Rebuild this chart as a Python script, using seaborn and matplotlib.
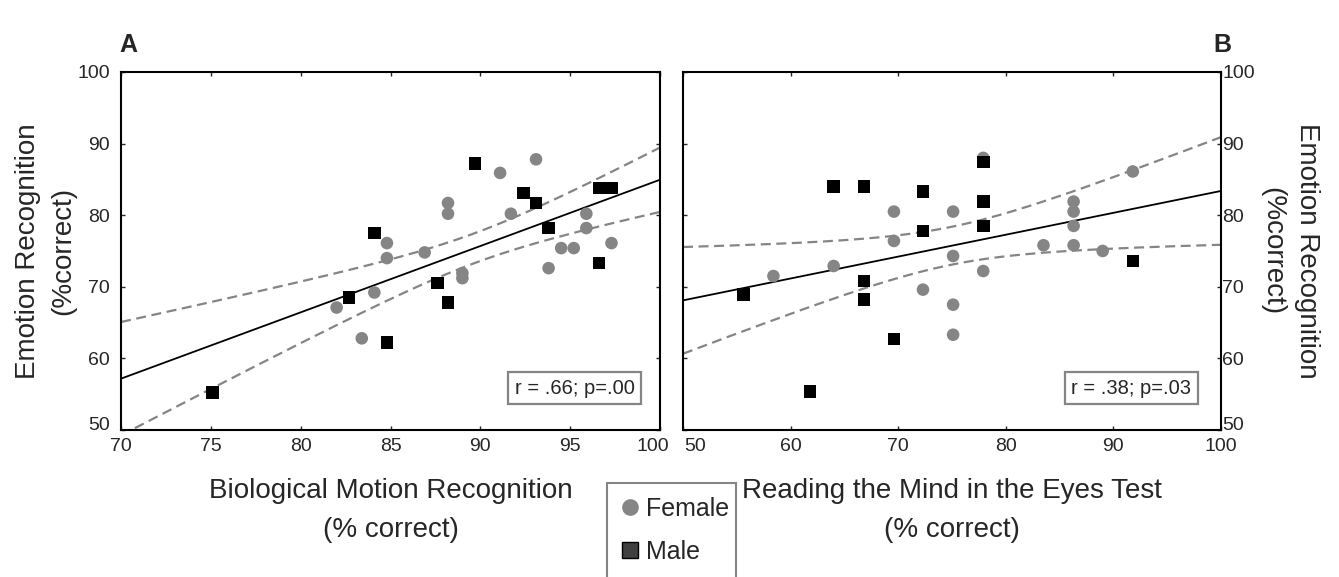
import matplotlib
matplotlib.use("Agg")
import matplotlib.pyplot as plt
import matplotlib.transforms as mtransforms
from matplotlib.lines import Line2D
from matplotlib.patches import Rectangle
import numpy as np
import pandas as pd
import seaborn as sns

# panel A: biological motion recognition vs emotion recognition
bio_female_x = [82.0, 83.4, 84.1, 84.8, 84.8, 86.9, 88.2, 88.2, 89.0, 89.0,
                91.1, 91.7, 93.1, 93.8, 94.5, 95.2, 95.9, 95.9, 97.3]
bio_female_y = [67.1, 62.8, 69.2, 76.1, 74.0, 74.8, 81.7, 80.2, 71.9, 71.2,
                85.9, 80.2, 87.8, 72.6, 75.4, 75.4, 80.2, 78.2, 76.1]
bio_male_x = [75.1, 82.7, 84.1, 84.8, 87.6, 88.2, 89.7, 92.4, 93.1, 93.8,
              96.6, 97.3, 96.6]
bio_male_y = [55.2, 68.5, 77.5, 62.2, 70.5, 67.8, 87.2, 83.1, 81.7, 78.2,
              83.8, 83.8, 73.3]

# panel B: reading the mind in the eyes vs emotion recognition
eyes_female_x = [58.4, 64.0, 69.6, 69.6, 72.3, 75.1, 75.1, 75.1, 75.1, 77.9,
                 77.9, 83.5, 86.3, 86.3, 86.3, 86.3, 89.0, 91.8]
eyes_female_y = [71.5, 72.9, 80.5, 76.4, 69.6, 80.5, 74.3, 67.5, 63.3, 88.0,
                 72.2, 75.8, 81.9, 80.5, 78.5, 75.8, 75.0, 86.1]
eyes_male_x = [55.6, 61.8, 64.0, 66.8, 66.8, 66.8, 69.6, 72.3, 72.3, 77.9,
               77.9, 77.9, 91.8]
eyes_male_y = [68.9, 55.4, 84.0, 84.0, 70.8, 68.2, 62.7, 83.3, 77.8, 87.4,
               81.9, 78.5, 73.6]

stat_a = "r = .66; p=.00"
stat_b = "r = .38; p=.03"

GRAY = "#858585"
T95 = 2.04  # t value, df ~ 30

sns.set_style("white")
plt.rcParams["font.family"] = ["Liberation Sans", "DejaVu Sans"]


def shift(label, fig, dx, dy):
    # nudge a tick label by dx, dy points
    off = mtransforms.ScaledTranslation(dx / 72, dy / 72, fig.dpi_scale_trans)
    label.set_transform(label.get_transform() + off)


def draw_panel(ax, fx, fy, mx, my, xlim, xticks, stat, stat_x):
    df = pd.DataFrame({
        "x": fx + mx,
        "y": fy + my,
        "sex": ["Female"] * len(fx) + ["Male"] * len(mx),
    })
    # regression line and 95% confidence band
    x = df["x"].to_numpy()
    y = df["y"].to_numpy()
    n = len(x)
    b, a = np.polyfit(x, y, 1)
    resid = y - (a + b * x)
    s = np.sqrt(np.sum(resid ** 2) / (n - 2))
    sxx = np.sum((x - x.mean()) ** 2)
    grid = np.linspace(xlim[0], xlim[1], 200)
    fit = a + b * grid
    half = T95 * s * np.sqrt(1 / n + (grid - x.mean()) ** 2 / sxx)
    ax.plot(grid, fit, color="black", lw=1.3, zorder=2)
    for band in (fit - half, fit + half):
        ax.plot(grid, band, color=GRAY, lw=1.6, dashes=(4.5, 2.5), zorder=2)

    sns.scatterplot(data=df, x="x", y="y", hue="sex", style="sex",
                    markers={"Female": "o", "Male": "s"},
                    palette={"Female": GRAY, "Male": "black"},
                    s=82, linewidth=0, legend=False, ax=ax, zorder=3)

    ax.set_xlim(*xlim)
    ax.set_ylim(50, 100)
    ax.set_xticks(xticks)
    ax.set_yticks([50, 60, 70, 80, 90, 100])
    ax.tick_params(direction="in", length=3, width=1, top=True, bottom=True,
                   left=True, right=True, labelsize=14)
    ax.tick_params(axis="x", pad=6)
    for sp in ax.spines.values():
        sp.set_linewidth(1.5)
        sp.set_color("black")
    ax.text(stat_x, 0.117, stat, transform=ax.transAxes, fontsize=14.5,
            ha="center", va="center",
            bbox=dict(boxstyle="square,pad=0.33", fc="white", ec=GRAY, lw=1.6))


fig = plt.figure(figsize=(13.39, 5.77), dpi=100)
axA = fig.add_axes([0.0904, 0.2548, 0.4025, 0.6205])
axB = fig.add_axes([0.5101, 0.2548, 0.4018, 0.6205])

draw_panel(axA, bio_female_x, bio_female_y, bio_male_x, bio_male_y,
           (70, 100), [70, 75, 80, 85, 90, 95, 100], stat_a, 0.842)
draw_panel(axB, eyes_female_x, eyes_female_y, eyes_male_x, eyes_male_y,
           (50, 100), [50, 60, 70, 80, 90, 100], stat_b, 0.833)

axA.tick_params(axis="y", pad=8)
axA.set_xlabel("Biological Motion Recognition\n(% correct)", fontsize=20,
               linespacing=1.65, labelpad=16)
axA.set_ylabel("Emotion Recognition\n(%correct)", fontsize=20,
               linespacing=1.45, labelpad=1)

axB.tick_params(axis="y", labelleft=False, labelright=True, pad=1)
axB.set_xlabel("Reading the Mind in the Eyes Test\n(% correct)", fontsize=20,
               linespacing=1.65, labelpad=16)
axB.yaxis.set_label_position("right")
axB.set_ylabel("Emotion Recognition\n(%correct)", fontsize=20,
               linespacing=1.45, labelpad=3, rotation=270, va="bottom")

# edge tick labels pulled inside, as in the original
xt_a = axA.xaxis.get_major_ticks()
shift(xt_a[-1].label1, fig, -5, 0)
xt_b = axB.xaxis.get_major_ticks()
shift(xt_b[0].label1, fig, 9, 0)
for ax in (axA, axB):
    yt = ax.yaxis.get_major_ticks()[0]
    shift(yt.label1, fig, 0, 5)
    shift(yt.label2, fig, 0, 5)

fig.text(128 / 1339, 1 - 45 / 577, "A", fontsize=18, weight="bold",
         ha="center", va="center")
fig.text(1222 / 1339, 1 - 45 / 577, "B", fontsize=18, weight="bold",
         ha="center", va="center")

# legend box runs off the bottom edge in the original
W, H = 1339, 577
fig.patches.append(Rectangle((607 / W, -30 / H), 129 / W, (H - 483 + 30) / H,
                             transform=fig.transFigure, fill=False,
                             edgecolor=GRAY, linewidth=1.5))
handles = [
    Line2D([], [], marker="o", linestyle="none", markerfacecolor=GRAY,
           markeredgewidth=0, markersize=12),
    Line2D([], [], marker="s", linestyle="none", markerfacecolor="#404040",
           markeredgecolor="black", markeredgewidth=1, markersize=11),
]
fig.legend(handles, ["Female", "Male"], loc="upper left",
           bbox_to_anchor=(620 / W, 1 - 497 / H), fontsize=18,
           frameon=False, handlelength=0.8, handletextpad=0.25,
           labelspacing=0.75, borderpad=0, borderaxespad=0)

fig.savefig("out.png", dpi=100)
